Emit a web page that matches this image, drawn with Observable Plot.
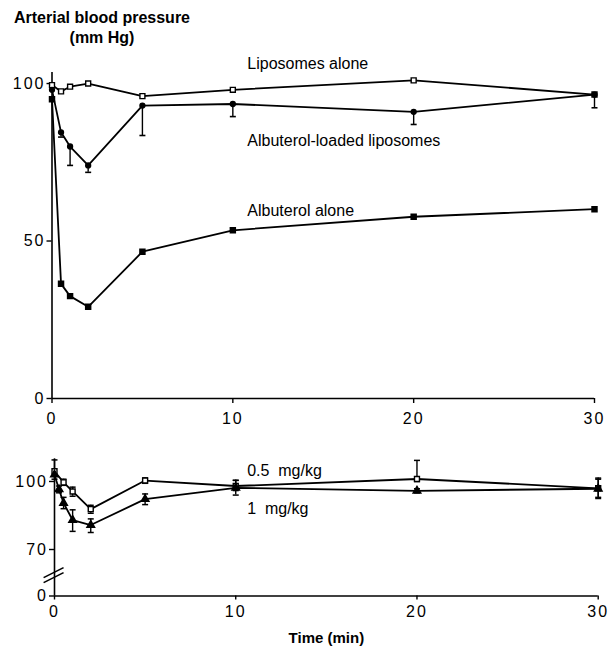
<!DOCTYPE html>
<html>
<head>
<meta charset="utf-8">
<script src="https://cdn.jsdelivr.net/npm/d3@7"></script>
<script src="https://cdn.jsdelivr.net/npm/@observablehq/plot@0.6"></script>
<style>
  body { margin: 0; background: #fff; }
  #wrap { position: relative; width: 608px; height: 647px; overflow: hidden; background: #fff; }
  .title { position: absolute; left: 0; top: 8px; width: 204px; text-align: center;
           font: bold 16px "Liberation Sans", Arial, sans-serif; line-height: 20px; color: #000; }
  #top, #bottom { position: absolute; left: 0; }
  #top { top: 50px; }
  #bottom { top: 430px; }
  g[aria-label$="tick label"] text, g[aria-label="x-axis"] text, g[aria-label="y-axis"] text { letter-spacing: 2px; }
</style>
</head>
<body>
<div id="wrap">
  <div class="title">Arterial blood pressure<br>(mm Hg)</div>
  <div id="top"></div>
  <div id="bottom"></div>
</div>
<script>
// ---- Top panel data ----
const time = [0, 0.5, 1, 2, 5, 10, 20, 30];
const liposomesAlone = [99.5, 97.5, 99, 100, 96, 98, 101, 96.5];
const loadedLiposomes = [98, 84.5, 80, 74, 93, 93.5, 91, 96.5];
const loadedLower = [null, 83, 74, 71.8, 83.5, 89.5, 87, 92.3];
const albuterolAlone = [95, 36.4, 32.5, 29.1, 46.6, 53.4, 57.7, 60.1];
const topXTicks = [0, 10, 20, 30];
const topYTicks = [0, 50, 100];
const topLabels = [
  {t: 10.8, v: 106.3, text: "Liposomes alone"},
  {t: 10.8, v: 81.9, text: "Albuterol-loaded liposomes"},
  {t: 10.8, v: 59.7, text: "Albuterol alone"}
];

// ---- Bottom panel data (broken axis: the base of the axis stands for 0) ----
const time05 = [0, 0.5, 1, 2, 5, 10, 20, 30];
const dose05 = [104.5, 99.6, 95.6, 87.8, 100.4, 98, 101.1, 97];
const dose05Low = [101, 98.3, 93.5, 86, 99.2, 96, 100, 93];
const dose05High = [109.5, 101, 97.5, 89.5, 101.6, 100.5, 109.3, 101.5];
const time1 = [0, 0.25, 0.5, 1, 2, 5, 10, 20, 30];
const dose1 = [103, 96.5, 90.5, 83, 80.8, 92.2, 97.2, 95.9, 96.8];
const dose1Low = [null, 95, 88, 78, 77.5, 89.8, 94, 95, 92.5];
const dose1High = [null, 98, 93, 87.5, 83.5, 94.5, 100.5, 96.8, 101];
const bottomAxisBase = 49.5;          // axis position drawn as "0" below the break
const bottomYTop = 110;
const bottomXTicks = [0, 10, 20, 30];
const bottomYTicks = [bottomAxisBase, 70, 100];
const bottomLabels = [
  {t: 10.63, v: 104.8, text: "0.5  mg/kg"},
  {t: 10.63, v: 88.1, text: "1  mg/kg"}
];
const axisBreak = [
  {x1: -0.6, y1: 57.6, x2: 0.5, y2: 62.0},
  {x1: -0.6, y1: 55.4, x2: 0.5, y2: 59.8}
];

// ---- helpers ----
const cap = { draw(ctx, size) { const r = Math.sqrt(size / Math.PI); ctx.moveTo(-r, 0); ctx.lineTo(r, 0); } };
const rows = (ts, vs) => ts.map((t, i) => ({t, v: vs[i]}));
const errRows = (ts, lo, hi) => ts.map((t, i) => ({t, lo: lo[i], hi: hi ? hi[i] : null}));
const font = '"Liberation Sans", Arial, sans-serif';

const lipo = rows(time, liposomesAlone);
const loaded = rows(time, loadedLiposomes);
const loadedErr = time.map((t, i) => ({t, lo: loadedLower[i], v: loadedLiposomes[i]})).filter(d => d.lo != null);
const albu = rows(time, albuterolAlone);

const topPlot = Plot.plot({
  width: 608, height: 380,
  marginLeft: 51.5, marginRight: 14, marginTop: 22, marginBottom: 32,
  style: {fontFamily: font, fontSize: "16px", color: "#000", background: "#fff"},
  x: {domain: [0, 30]},
  y: {domain: [0, 103.5]},
  marks: [
    Plot.ruleX([0], {stroke: "#000", strokeWidth: 1.6}),
    Plot.ruleY([0], {stroke: "#000", strokeWidth: 1.6}),
    Plot.axisX({ticks: topXTicks, tickSize: 5, tickPadding: 9, label: null, fontSize: 16, strokeWidth: 1.4}),
    Plot.axisY({ticks: topYTicks, tickSize: 5, tickPadding: 1.5, label: null, fontSize: 16, strokeWidth: 1.4}),
    Plot.ruleX(loadedErr, {x: "t", y1: "v", y2: "lo", stroke: "#000", strokeWidth: 1.4}),
    Plot.dot(loadedErr, {x: "t", y: "lo", symbol: cap, r: 3, stroke: "#000", strokeWidth: 1.6}),
    Plot.line(lipo, {x: "t", y: "v", stroke: "#000", strokeWidth: 1.8}),
    Plot.line(loaded, {x: "t", y: "v", stroke: "#000", strokeWidth: 1.8}),
    Plot.line(albu, {x: "t", y: "v", stroke: "#000", strokeWidth: 1.8}),
    Plot.dot(lipo, {x: "t", y: "v", symbol: "square", r: 2.8, fill: "#fff", stroke: "#000", strokeWidth: 1.4}),
    Plot.dot(loaded, {x: "t", y: "v", symbol: "circle", r: 2.4, fill: "#000", stroke: "#000"}),
    Plot.dot(albu, {x: "t", y: "v", symbol: "square", r: 2.8, fill: "#000", stroke: "#000"}),
    Plot.text(topLabels, {x: "t", y: "v", text: "text", textAnchor: "start", lineAnchor: "middle", fontSize: 16, fill: "#000"})
  ]
});
document.getElementById("top").append(topPlot);

const d05 = rows(time05, dose05);
const d05Err = errRows(time05, dose05Low, dose05High);
const d1 = rows(time1, dose1);
const d1Err = errRows(time1, dose1Low, dose1High).filter(d => d.lo != null);

const bottomPlot = Plot.plot({
  width: 608, height: 217,
  marginLeft: 54, marginRight: 10.3, marginTop: 28.3, marginBottom: 51.5,
  style: {fontFamily: font, fontSize: "16px", color: "#000", background: "#fff"},
  x: {domain: [0, 30]},
  y: {domain: [bottomAxisBase, bottomYTop]},
  marks: [
    Plot.ruleX([0], {stroke: "#000", strokeWidth: 1.6}),
    Plot.ruleY([bottomAxisBase], {stroke: "#000", strokeWidth: 1.6}),
    Plot.link(axisBreak, {x1: "x1", y1: "y1", x2: "x2", y2: "y2", stroke: "#000", strokeWidth: 1.6}),
    Plot.axisX({ticks: bottomXTicks, tickSize: 4, tickPadding: 6, label: null, fontSize: 16, strokeWidth: 1.4}),
    Plot.axisY({ticks: bottomYTicks, tickFormat: d => d === bottomAxisBase ? "0" : String(d), tickSize: 5, tickPadding: 1.5, label: null, fontSize: 16, strokeWidth: 1.4}),
    Plot.ruleX(d05Err, {x: "t", y1: "lo", y2: "hi", stroke: "#000", strokeWidth: 1.4}),
    Plot.dot(d05Err, {x: "t", y: "lo", symbol: cap, r: 3, stroke: "#000", strokeWidth: 1.5}),
    Plot.dot(d05Err, {x: "t", y: "hi", symbol: cap, r: 3, stroke: "#000", strokeWidth: 1.5}),
    Plot.ruleX(d1Err, {x: "t", y1: "lo", y2: "hi", stroke: "#000", strokeWidth: 1.4}),
    Plot.dot(d1Err, {x: "t", y: "lo", symbol: cap, r: 3, stroke: "#000", strokeWidth: 1.5}),
    Plot.dot(d1Err, {x: "t", y: "hi", symbol: cap, r: 3, stroke: "#000", strokeWidth: 1.5}),
    Plot.line(d05, {x: "t", y: "v", stroke: "#000", strokeWidth: 1.8}),
    Plot.line(d1, {x: "t", y: "v", stroke: "#000", strokeWidth: 1.8}),
    Plot.dot(d05, {x: "t", y: "v", symbol: "square", r: 2.8, fill: "#fff", stroke: "#000", strokeWidth: 1.4}),
    Plot.dot(d1, {x: "t", y: "v", symbol: "triangle", r: 2.8, fill: "#000", stroke: "#000"}),
    Plot.text(bottomLabels, {x: "t", y: "v", text: "text", textAnchor: "start", lineAnchor: "middle", fontSize: 16, fill: "#000"}),
    Plot.text(["Time (min)"], {frameAnchor: "bottom", dy: 42.5, lineAnchor: "middle", fontSize: 15, fontWeight: "bold", fill: "#000"})
  ]
});
document.getElementById("bottom").append(bottomPlot);
</script>
</body>
</html>
